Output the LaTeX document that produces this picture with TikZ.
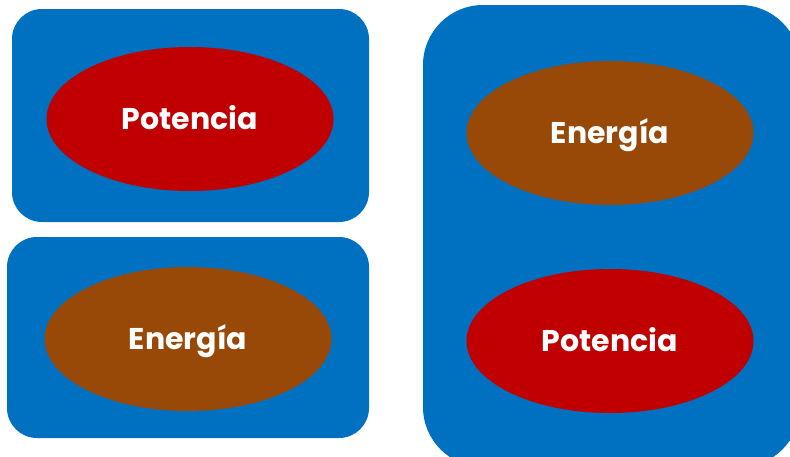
\documentclass[tikz,border=0pt]{standalone}
\usepackage{fontspec}
\setmainfont{Poppins}
\usetikzlibrary{shapes, positioning}
\definecolor{boxblue}{HTML}{0070C0}
\definecolor{potred}{HTML}{C00000}
\definecolor{enbrown}{HTML}{984807}
\tikzset{
panel/.style={fill=boxblue, rounded corners=30pt, inner sep=0pt},
blob/.style={ellipse, inner sep=0pt, minimum width=287pt, minimum height=144pt,
  text=white, font=\fontsize{30}{30}\selectfont\bfseries, text height=21pt, text depth=0pt},
pot/.style={blob, fill=potred},
en/.style={blob, fill=enbrown}
}

\begin{document}
\begin{tikzpicture}[x=1pt, y=-1pt]
\useasboundingbox (0,0) rectangle (790,456);
\clip (0,0) rectangle (790,456);
\node[panel, minimum width=357pt, minimum height=213pt] (topbox) at (190.5,115.5) {};
\node[panel, minimum width=362pt, minimum height=201pt] (botbox) at (188,337.5) {};
\node[panel, rounded corners=60pt, minimum width=377pt, minimum height=462pt] (bigbox) at (611.5,236) {};

\node[pot] (pot1) at (190,119) {Potencia};
\node[en] (en1) at (188,339) {Energía};
\node[en] (en2) at (610,133) {Energía};
\node[pot] (pot2) at (610,341) {Potencia};
\end{tikzpicture}
\end{document}
